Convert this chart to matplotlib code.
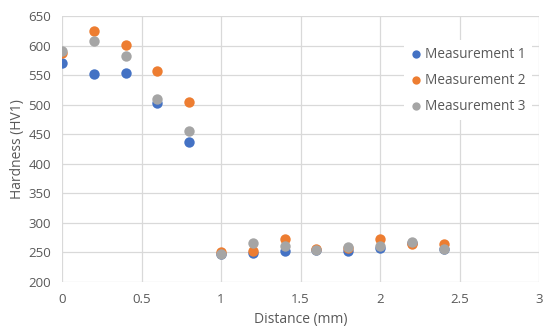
import matplotlib
matplotlib.use("Agg")
import matplotlib.pyplot as plt

distance = [0, 0.2, 0.4, 0.6, 0.8, 1.0, 1.2, 1.4, 1.6, 1.8, 2.0, 2.2, 2.4]
m1 = [570, 552, 553, 502, 436, 248, 249, 253, 254, 252, 258, 266, 256]
m2 = [588, 624, 601, 557, 505, 251, 253, 272, 256, 257, 272, 264, 264]
m3 = [590, 608, 582, 509, 455, 248, 266, 261, 254, 259, 261, 267, 255]
labels = ["Measurement 1", "Measurement 2", "Measurement 3"]
colors = ["#4472C4", "#ED7D31", "#A5A5A5"]

plt.rcParams['font.family'] = ['Open Sans', 'DejaVu Sans']
txt = "#595959"

fig = plt.figure(figsize=(5.5, 3.29), dpi=100)
ax = fig.add_axes([62/550, 1 - 282/329, (539-62)/550, (282-16)/329])

for ys, lab, c in zip([m1, m2, m3], labels, colors):
    ax.scatter(distance, ys, s=56, color=c, label=lab, zorder=3, linewidths=0)

ax.set_xlim(0, 3)
ax.set_ylim(200, 650)
ax.set_xticks([0, 0.5, 1, 1.5, 2, 2.5, 3])
ax.set_xticklabels(["0", "0.5", "1", "1.5", "2", "2.5", "3"])
ax.set_yticks(range(200, 651, 50))
ax.grid(True, color="#D9D9D9", linewidth=0.9, zorder=0)
ax.set_axisbelow(True)
for s in ax.spines.values():
    s.set_visible(False)
ax.tick_params(length=0, colors=txt, labelsize=9.5, pad=8)
ax.set_xlabel("Distance (mm)", color=txt, fontsize=10, labelpad=4)
ax.set_ylabel("Hardness (HV1)", color=txt, fontsize=10, labelpad=2)

leg = ax.legend(loc="upper right", bbox_to_anchor=(1.0, 0.935), frameon=True,
                fontsize=9.8, handletextpad=0.25, labelspacing=0.8,
                borderpad=0.5, handlelength=0.8, markerscale=0.8)
leg.get_frame().set_edgecolor("none")
leg.get_frame().set_facecolor("white")
leg.get_frame().set_alpha(1)
for t in leg.get_texts():
    t.set_color(txt)

fig.savefig("out.png", dpi=100)
